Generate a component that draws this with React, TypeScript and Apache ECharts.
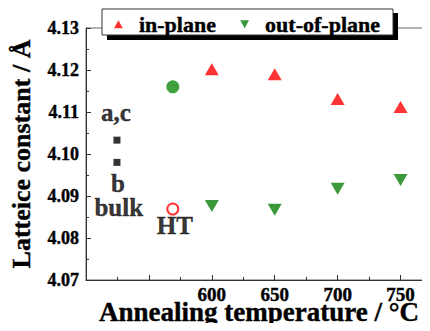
import React, { useEffect, useRef } from "react";
import * as echarts from "echarts";

const FONT = "'Liberation Serif', 'Times New Roman', serif";

const TEMPS = [600, 650, 700, 750];
const IN_PLANE = [4.1202, 4.119, 4.1131, 4.1112];
const OUT_OF_PLANE = [4.0876, 4.0867, 4.0917, 4.0938];
const GREEN_CIRCLE = [[569, 4.116]];
const HT_POINT = [[569, 4.0869]];
const BULK_POINTS = [[524.6, 4.1033], [524.6, 4.098]];
const X_LABELS = [600, 650, 700, 750];
const ANNOTATIONS: [number, number, string][] = [
  [523.8, 4.1098, "a,c"],
  [525.4, 4.093, "b"],
  [526, 4.0873, "bulk"],
  [570.6, 4.083, "HT"],
];

const DOWN_TRI = "path://M0,0L10,0L5,9Z";
const UP_TRI = "path://M5,0L10,9L0,9Z";
const HEAVY = { textBorderColor: "#000", textBorderWidth: 0.4 };

export default function App() {
  const ref = useRef<HTMLDivElement>(null);
  useEffect(() => {
    if (!ref.current) return;
    const chart = echarts.init(ref.current, null, { renderer: "svg" });
    chart.setOption({
      animation: false,
      backgroundColor: "#fff",
      grid: {
        left: 86,
        top: 28,
        bottom: 51,
        right: -2,
        outerBoundsMode: "none",
        containLabel: false,
        show: true,
        borderColor: "#666",
        borderWidth: 1,
        backgroundColor: "transparent",
      },
      legend: {
        left: 108,
        top: 11,
        z: 10,
        padding: [2, 6],
        itemGap: 24,
        itemWidth: 9,
        itemHeight: 8,
        textStyle: {
          fontFamily: FONT,
          fontWeight: "bold",
          fontSize: 22,
          color: "#000",
          padding: [0, 0, 0, 11],
          ...HEAVY,
        },
        data: [
          { name: "in-plane", icon: UP_TRI },
          { name: "out-of-plane", icon: DOWN_TRI },
        ],
      },
      graphic: {
        elements: [
          {
            type: "rect",
            z: 5,
            shape: { x: 107, y: 13, width: 291, height: 27 },
            style: { fill: "#000" },
          },
          {
            type: "rect",
            z: 6,
            shape: { x: 102, y: 9, width: 291, height: 26 },
            style: { fill: "#fff", stroke: "#333", lineWidth: 1 },
          },
        ],
      },
      xAxis: {
        type: "value",
        min: 500,
        max: 775,
        interval: 50,
        name: "Annealing temperature / °C",
        nameLocation: "middle",
        nameGap: 22,
        nameMoveOverlap: false,
        nameTextStyle: {
          fontFamily: FONT,
          fontWeight: "bold",
          fontSize: 27,
          lineHeight: 20,
          color: "#000",
          ...HEAVY,
        },
        axisLine: { show: true, lineStyle: { color: "#333", width: 1 } },
        axisTick: { show: true, inside: true, length: 5, lineStyle: { color: "#333" } },
        minorTick: { show: true, splitNumber: 2, length: 3, lineStyle: { color: "#333" } },
        splitLine: { show: false },
        axisLabel: {
          margin: 7,
          fontFamily: FONT,
          fontWeight: "bold",
          fontSize: 19,
          lineHeight: 14,
          color: "#000",
          ...HEAVY,
          formatter: (v: number) => (X_LABELS.includes(v) ? String(v) : ""),
        },
      },
      yAxis: {
        type: "value",
        min: 4.07,
        max: 4.13,
        interval: 0.01,
        name: "Latteice constant / Å",
        nameLocation: "middle",
        nameGap: 52,
        nameMoveOverlap: false,
        nameTextStyle: { fontFamily: FONT, fontWeight: "bold", fontSize: 26, color: "#000", ...HEAVY },
        axisLine: { show: true, lineStyle: { color: "#333", width: 1 } },
        axisTick: { show: true, inside: true, length: 5, lineStyle: { color: "#333" } },
        minorTick: { show: true, splitNumber: 2, length: 3, lineStyle: { color: "#333" } },
        splitLine: { show: false },
        axisLabel: {
          margin: 7,
          fontFamily: FONT,
          fontWeight: "bold",
          fontSize: 18,
          color: "#000",
          ...HEAVY,
          formatter: (v: number) => v.toFixed(2),
        },
      },
      series: [
        {
          name: "in-plane",
          type: "scatter",
          symbol: UP_TRI,
          symbolSize: [14, 12],
          itemStyle: { color: "#ff0000" },
          data: TEMPS.map((t, i) => [t, IN_PLANE[i]]),
        },
        {
          name: "out-of-plane",
          type: "scatter",
          symbol: DOWN_TRI,
          symbolSize: [14, 12],
          itemStyle: { color: "#0a800a" },
          data: TEMPS.map((t, i) => [t, OUT_OF_PLANE[i]]),
        },
        {
          name: "green",
          type: "scatter",
          symbol: "circle",
          symbolSize: 13,
          itemStyle: { color: "#118a11" },
          data: GREEN_CIRCLE,
        },
        {
          name: "HT",
          type: "scatter",
          symbol: "circle",
          symbolSize: 11,
          itemStyle: { color: "#fff", borderColor: "#ff0000", borderWidth: 2 },
          data: HT_POINT,
        },
        {
          name: "bulk",
          type: "scatter",
          symbol: "rect",
          symbolSize: 7,
          itemStyle: { color: "#000" },
          data: BULK_POINTS,
        },
        {
          name: "annotations",
          type: "scatter",
          symbolSize: 0,
          silent: true,
          data: ANNOTATIONS,
          label: {
            show: true,
            position: "inside",
            formatter: (p: any) => p.data[2],
            fontFamily: FONT,
            fontWeight: "bold",
            fontSize: 25,
            lineHeight: 22,
            color: "#000",
            ...HEAVY,
          },
        },
      ],
    });
    return () => chart.dispose();
  }, []);
  return <div ref={ref} style={{ width: 430, height: 331, margin: -8 }} />;
}
